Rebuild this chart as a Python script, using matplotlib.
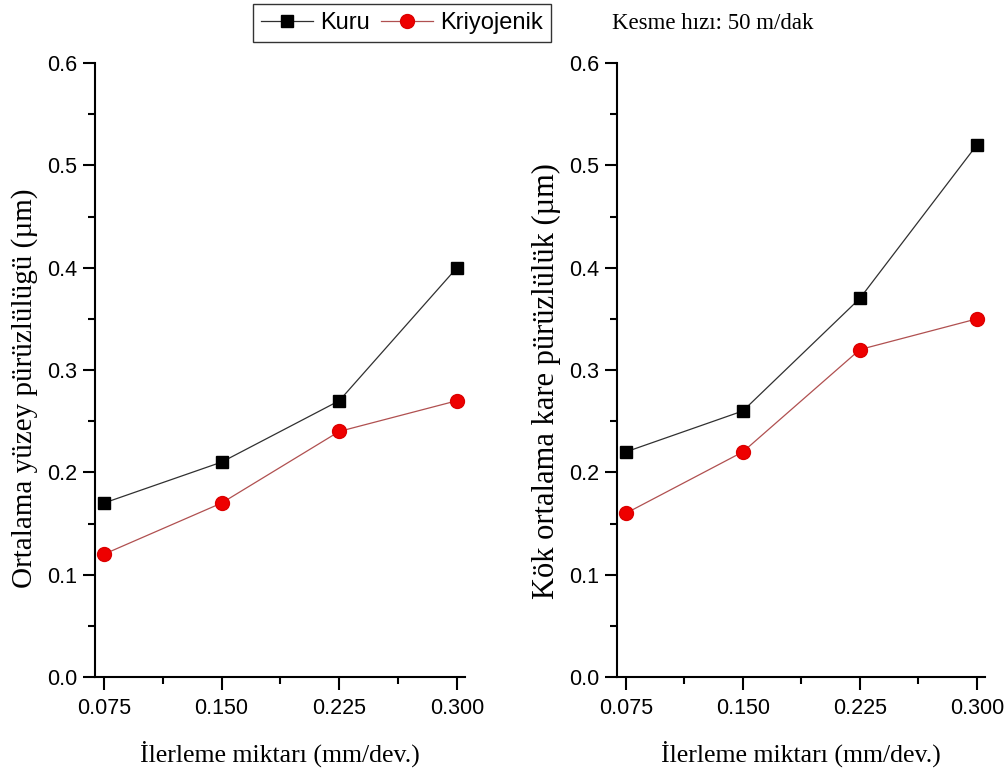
import matplotlib
matplotlib.use("Agg")
import matplotlib.pyplot as plt
from matplotlib.ticker import MultipleLocator, FixedLocator, FormatStrFormatter

feed = [0.075, 0.150, 0.225, 0.300]
xtick_labels = ["0.075", "0.150", "0.225", "0.300"]
ra_kuru = [0.17, 0.21, 0.27, 0.40]
ra_kriyo = [0.12, 0.17, 0.24, 0.27]
rq_kuru = [0.22, 0.26, 0.37, 0.52]
rq_kriyo = [0.16, 0.22, 0.32, 0.35]
series_names = ["Kuru", "Kriyojenik"]
ylabels = ["Ortalama yüzey pürüzlülügü (µm)", "Kök ortalama kare pürüzlülük (µm)"]
xlabel = "İlerleme miktarı (mm/dev.)"
note = "Kesme hızı: 50 m/dak"

sans = "Liberation Sans"
serif = "Liberation Serif"

fig = plt.figure(figsize=(10.06, 7.78), dpi=100)
ax1 = fig.add_axes([0.0944, 0.1298, 0.3678, 0.7892])
ax2 = fig.add_axes([0.6133, 0.1298, 0.3657, 0.7892])

handles = None
for ax, yk, yc, yl, yfs in [(ax1, ra_kuru, ra_kriyo, ylabels[0], 21),
                            (ax2, rq_kuru, rq_kriyo, ylabels[1], 22)]:
    h1, = ax.plot(feed, yk, color="#303030", lw=0.9, marker="s", ms=9,
                  mfc="black", mec="black", label=series_names[0])
    h2, = ax.plot(feed, yc, color="#b05050", lw=0.9, marker="o", ms=10,
                  mfc="#ee0000", mec="#dd0000", label=series_names[1])
    handles = [h1, h2]
    ax.set_xlim(0.0693, 0.3051)
    ax.set_ylim(0.0, 0.6)
    ax.xaxis.set_major_locator(FixedLocator(feed))
    ax.set_xticklabels(xtick_labels)
    ax.xaxis.set_minor_locator(FixedLocator([0.1125, 0.1875, 0.2625]))
    ax.yaxis.set_major_locator(MultipleLocator(0.1))
    ax.yaxis.set_minor_locator(MultipleLocator(0.05))
    ax.yaxis.set_major_formatter(FormatStrFormatter("%.1f"))
    for s in ["top", "right"]:
        ax.spines[s].set_visible(False)
    for s in ["left", "bottom"]:
        ax.spines[s].set_linewidth(1.5)
    ax.tick_params(which="major", direction="out", length=9, width=1.5, labelsize=15.5)
    ax.tick_params(axis="x", which="major", pad=6)
    ax.tick_params(axis="y", which="major", pad=4)
    ax.tick_params(which="minor", direction="out", length=5, width=1.5)
    for lab in ax.get_xticklabels() + ax.get_yticklabels():
        lab.set_fontfamily(sans)
    ax.set_xlabel(xlabel, fontfamily=serif, fontsize=18.5, labelpad=16)
    ax.set_ylabel(yl, fontfamily=serif, fontsize=yfs)

ax1.yaxis.set_label_coords(-0.155, 0.47)
ax2.yaxis.set_label_coords(-0.153, 0.482)

leg = fig.legend(handles=handles, loc="upper left", bbox_to_anchor=(0.2515, 0.995), ncol=2,
                 frameon=True, fancybox=False, edgecolor="black", handlelength=2.2,
                 columnspacing=0.45, handletextpad=0.3, borderpad=0.35,
                 borderaxespad=0.0, prop={"family": sans, "size": 17})
leg.get_frame().set_linewidth(1.0)
fig.text(0.608, 0.970, note, fontfamily=serif, fontsize=16.5, va="center", ha="left")

fig.savefig("out.png", dpi=100)
